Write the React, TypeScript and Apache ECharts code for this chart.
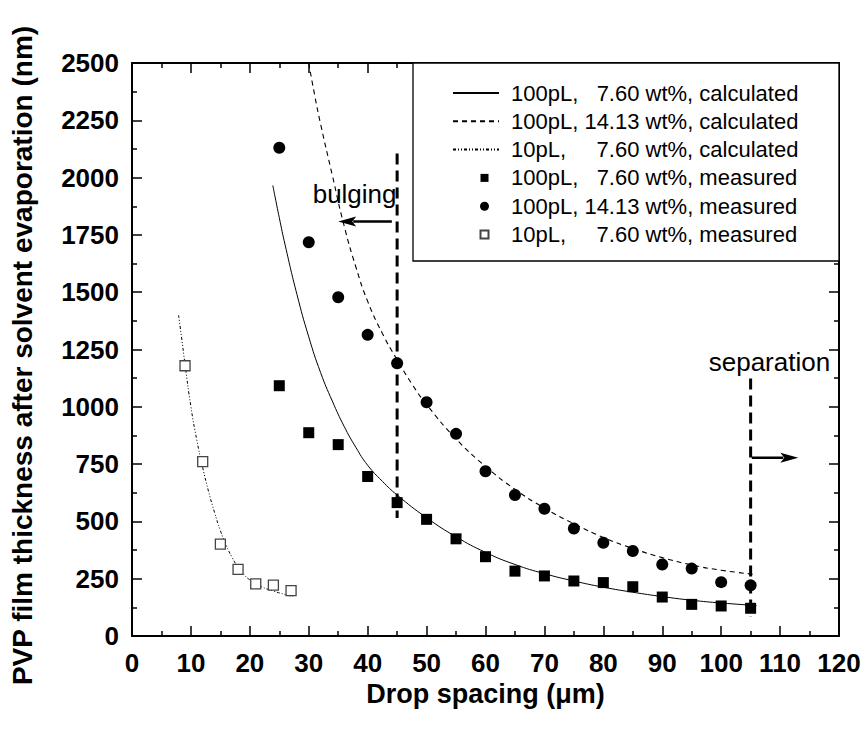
import React, { useEffect, useRef } from 'react';
import * as echarts from 'echarts';

const FONT = '"Liberation Sans", Arial, Helvetica, sans-serif';
const NB = '\u00A0';

// Series names (legend text)
const seriesNames = [
  `100pL,${NB}${NB}${NB}7.60 wt%, calculated`,
  `100pL, 14.13 wt%, calculated`,
  `10pL,${NB}${NB}${NB}${NB}${NB}7.60 wt%, calculated`,
  `100pL,${NB}${NB}${NB}7.60 wt%, measured`,
  `100pL, 14.13 wt%, measured`,
  `10pL,${NB}${NB}${NB}${NB}${NB}7.60 wt%, measured`,
];

// Axis ranges / ticks
const xMin = 0, xMax = 120, xStep = 10;
const yMin = 0, yMax = 2500, yStep = 250;

// Calculated curve: 100pL, 7.60 wt%
const calcA_X = [23.9, 25, 26, 28, 30, 32, 34, 36, 38, 40, 42.5, 45, 50, 55, 60, 65, 70, 75, 80, 85, 90, 95, 100, 106];
const calcA_Y = [1966, 1825, 1705, 1490, 1305, 1150, 1025, 915, 823, 745, 675, 615, 516, 433, 365, 312, 272, 240, 213, 191, 172, 156, 144, 133];

// Calculated curve: 100pL, 14.13 wt%
const calcB_X = [30, 31, 32, 34, 36, 38, 40, 42.5, 45, 47.5, 50, 55, 60, 65, 70, 75, 80, 85, 90, 95, 100, 106];
const calcB_Y = [2500, 2360, 2235, 2010, 1790, 1610, 1460, 1320, 1205, 1100, 1010, 860, 740, 640, 558, 490, 430, 382, 342, 310, 287, 268];

// Calculated curve: 10pL, 7.60 wt%
const calcC_X = [7.9, 8.4, 9, 10, 11, 12, 13, 14, 15, 16, 17, 18, 19, 20, 22, 24, 26, 27.3];
const calcC_Y = [1400, 1305, 1185, 1000, 855, 735, 630, 540, 460, 395, 342, 300, 268, 245, 215, 196, 181, 172];

// Measured: 100pL
const meas100_X = [25, 30, 35, 40, 45, 50, 55, 60, 65, 70, 75, 80, 85, 90, 95, 100, 105];
const measA_Y = [1092, 887, 835, 696, 582, 509, 424, 346, 283, 262, 240, 233, 215, 170, 138, 131, 121];
const measB_Y = [2130, 1718, 1478, 1314, 1190, 1020, 882, 719, 615, 555, 469, 407, 371, 312, 294, 235, 221];

// Measured: 10pL
const measC_X = [9, 12, 15, 18, 21, 24, 27];
const measC_Y = [1179, 761, 401, 291, 227, 222, 198];

// Annotations (data coordinates)
const vLines = [[45, 2105, 45, 515], [105, 1124, 105, 84]];
const arrows = [[44.1, 1809, 35, 1809], [105.2, 778, 113.1, 778]];
const annoTexts = ['bulging', 'separation'];
const annoPos = [[44.9, 1930], [118.5, 1195]];

const zip = (xs: number[], ys: number[]) => xs.map((x, i) => [x, ys[i]]);

// Legend icons: invisible move-to points widen the bounding box so the marker sits right of centre
const SQ_ICON = 'path://M0,0M46,9M27.5,0.5H35.5V8.5H27.5Z';
const CIRCLE_ICON = 'path://M0,0M46,9M27,4.5A4.5,4.5,0,1,0,36,4.5A4.5,4.5,0,1,0,27,4.5Z';
const HIDE_SYMBOL = { color: 'rgba(0,0,0,0)', borderWidth: 0, opacity: 0 };

function axisCommon() {
  return {
    axisLine: { show: true, onZero: false, lineStyle: { color: '#000', width: 2 } },
    axisTick: { show: true, inside: true, length: 10, lineStyle: { color: '#000', width: 1.5 } },
    minorTick: { show: true, splitNumber: 2, length: 5, lineStyle: { color: '#000', width: 1.5 } },
    splitLine: { show: false },
  };
}

export default function App() {
  const ref = useRef<HTMLDivElement>(null);
  useEffect(() => {
    document.body.style.margin = '0';
    const chart = echarts.init(ref.current!, undefined, { renderer: 'svg' });
    const labelStyle = {
      show: true, fontFamily: FONT, fontWeight: 'bold', fontSize: 26, color: '#000',
      formatter: (v: number) => String(v),
    };
    const option: any = {
      animation: false,
      backgroundColor: '#fff',
      grid: { left: 130, top: 63, width: 709, height: 573 },
      xAxis: [
        {
          type: 'value', min: xMin, max: xMax, interval: xStep, position: 'bottom',
          name: 'Drop spacing (\u03bcm)', nameLocation: 'middle', nameGap: 34,
          nameTextStyle: { fontFamily: FONT, fontWeight: 'bold', fontSize: 27, color: '#000' },
          ...axisCommon(),
          axisLabel: { ...labelStyle, margin: 14 },
        },
        { type: 'value', min: xMin, max: xMax, interval: xStep, position: 'top', ...axisCommon(), axisLabel: { show: false } },
      ],
      yAxis: [
        {
          type: 'value', min: yMin, max: yMax, interval: yStep, position: 'left',
          name: 'PVP film thickness after solvent evaporation (nm)', nameLocation: 'middle', nameGap: 96,
          nameTextStyle: { fontFamily: FONT, fontWeight: 'bold', fontSize: 28, color: '#000', padding: [0, 12, 0, 0] },
          ...axisCommon(),
          axisLabel: { ...labelStyle, margin: 13 },
        },
        { type: 'value', min: yMin, max: yMax, interval: yStep, position: 'right', ...axisCommon(), axisLabel: { show: false } },
      ],
      legend: {
        data: [
          { name: seriesNames[0], itemStyle: HIDE_SYMBOL },
          { name: seriesNames[1], itemStyle: HIDE_SYMBOL },
          { name: seriesNames[2], itemStyle: HIDE_SYMBOL },
          { name: seriesNames[3], icon: SQ_ICON },
          { name: seriesNames[4], icon: CIRCLE_ICON },
          { name: seriesNames[5], icon: SQ_ICON },
        ],
        orient: 'vertical', left: 452, top: 82, padding: 0, itemGap: 6.3,
        itemWidth: 46, itemHeight: 9, selectedMode: false, z: 10,
        textStyle: { fontFamily: FONT, fontSize: 22, color: '#000', lineHeight: 22, padding: [0, 0, 0, 7] },
      },
      graphic: [
        {
          type: 'rect', z: 3, silent: true,
          shape: { x: 413, y: 63, width: 426, height: 198 },
          style: { fill: '#fff', stroke: '#000', lineWidth: 1.3 },
        },
      ],
      series: [
        {
          name: seriesNames[0], type: 'line', data: zip(calcA_X, calcA_Y), smooth: 0.5,
          symbol: 'none', showSymbol: false, lineStyle: { color: '#000', width: 1 }, itemStyle: { color: '#000' },
        },
        {
          name: seriesNames[1], type: 'line', data: zip(calcB_X, calcB_Y), smooth: 0.5,
          symbol: 'none', showSymbol: false, lineStyle: { color: '#000', width: 1.1, type: [5, 4] }, itemStyle: { color: '#000' },
        },
        {
          name: seriesNames[2], type: 'line', data: zip(calcC_X, calcC_Y), smooth: 0.5,
          symbol: 'none', showSymbol: false, lineStyle: { color: '#000', width: 1, type: [3, 2, 1, 2, 1, 2] }, itemStyle: { color: '#000' },
        },
        {
          name: seriesNames[3], type: 'scatter', data: zip(meas100_X, measA_Y), symbol: 'rect', symbolSize: 11,
          itemStyle: { color: '#000', opacity: 1 }, z: 4,
        },
        {
          name: seriesNames[4], type: 'scatter', data: zip(meas100_X, measB_Y), symbol: 'circle', symbolSize: 12,
          itemStyle: { color: '#000', opacity: 1 }, z: 4,
        },
        {
          name: seriesNames[5], type: 'scatter', data: zip(measC_X, measC_Y), symbol: 'rect', symbolSize: 10,
          itemStyle: { color: '#fff', borderColor: '#444', borderWidth: 1.3, opacity: 1 }, z: 4,
        },
        {
          type: 'custom', name: 'vlines', silent: true, clip: false, z: 5,
          data: vLines,
          renderItem: (params: any, api: any) => {
            const a = api.coord([api.value(0), api.value(1)]);
            const b = api.coord([api.value(2), api.value(3)]);
            return {
              type: 'line',
              shape: { x1: a[0], y1: a[1], x2: b[0], y2: b[1] },
              style: { stroke: '#000', lineWidth: 3, lineDash: [11, 6] },
            };
          },
        },
        {
          type: 'custom', name: 'arrows', silent: true, clip: false, z: 5,
          data: arrows,
          renderItem: (params: any, api: any) => {
            const a = api.coord([api.value(0), api.value(1)]);
            const b = api.coord([api.value(2), api.value(3)]);
            const dx = b[0] - a[0], dy = b[1] - a[1];
            const len = Math.hypot(dx, dy) || 1;
            const ux = dx / len, uy = dy / len;
            const hl = 18, hw = 5;
            const bx = b[0] - ux * hl, by = b[1] - uy * hl;
            return {
              type: 'group',
              children: [
                {
                  type: 'line',
                  shape: { x1: a[0], y1: a[1], x2: bx + ux * 3, y2: by + uy * 3 },
                  style: { stroke: '#000', lineWidth: 2.5 },
                },
                {
                  type: 'polygon',
                  shape: {
                    points: [
                      [b[0], b[1]],
                      [bx - uy * hw, by + ux * hw],
                      [bx + ux * 4, by + uy * 4],
                      [bx + uy * hw, by - ux * hw],
                    ],
                  },
                  style: { fill: '#000' },
                },
              ],
            };
          },
        },
        {
          type: 'custom', name: 'annotations', silent: true, clip: false, z: 6,
          data: annoPos,
          renderItem: (params: any, api: any) => {
            const p = api.coord([api.value(0), api.value(1)]);
            return {
              type: 'text',
              x: p[0], y: p[1],
              style: {
                text: annoTexts[params.dataIndex],
                fill: '#000',
                font: `26px ${FONT}`,
                fontSize: 26,
                fontFamily: FONT,
                align: 'right', textAlign: 'right',
                verticalAlign: 'middle', textVerticalAlign: 'middle',
              },
            };
          },
        },
      ],
    };
    chart.setOption(option);
    return () => chart.dispose();
  }, []);
  return <div ref={ref} style={{ width: 867, height: 734 }} />;
}
